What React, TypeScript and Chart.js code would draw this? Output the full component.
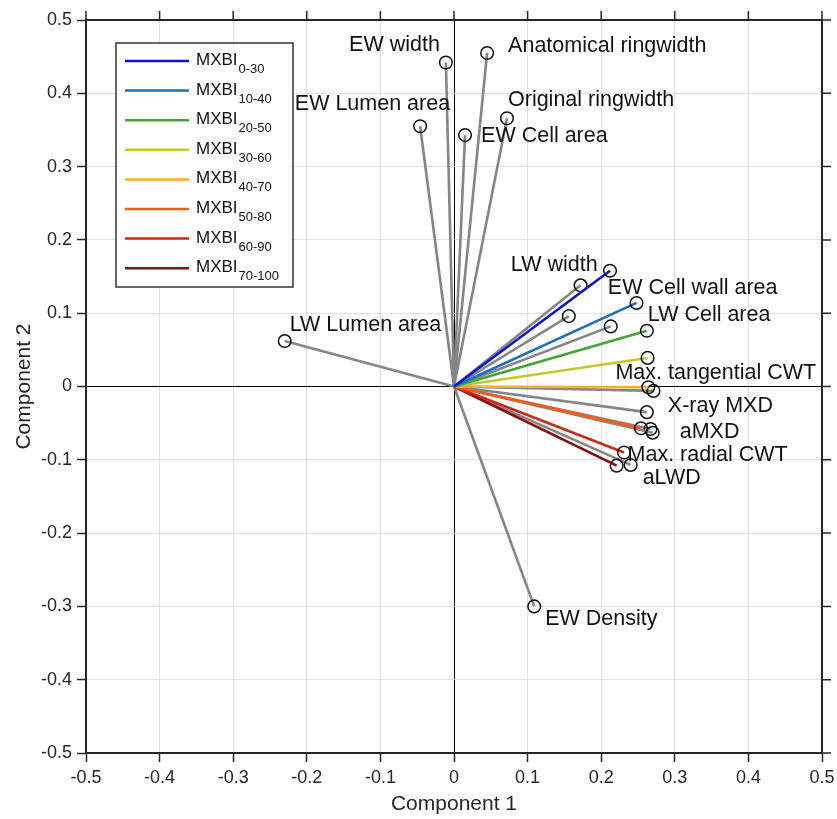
import React, { useEffect, useRef } from "react";
import { Chart, registerables } from "chart.js";

Chart.register(...registerables);

// ---- data ----
const variableNames = [
  "EW width",
  "Anatomical ringwidth",
  "Original ringwidth",
  "EW Lumen area",
  "EW Cell area",
  "LW Lumen area",
  "EW Density",
  "LW width",
  "EW Cell wall area",
  "LW Cell area",
  "Max. tangential CWT",
  "X-ray MXD",
  "aMXD",
  "Max. radial CWT",
  "aLWD",
];
const variableX = [-0.011, 0.045, 0.072, -0.046, 0.015, -0.23, 0.109, 0.172, 0.156, 0.213, 0.271, 0.262, 0.27, 0.267, 0.24];
const variableY = [0.442, 0.455, 0.366, 0.355, 0.343, 0.062, -0.3, 0.138, 0.096, 0.082, -0.006, -0.035, -0.063, -0.058, -0.107];

const mxbiNames = ["0-30", "10-40", "20-50", "30-60", "40-70", "50-80", "60-90", "70-100"];
const mxbiX = [0.212, 0.248, 0.262, 0.263, 0.264, 0.254, 0.231, 0.221];
const mxbiY = [0.158, 0.114, 0.076, 0.039, -0.001, -0.057, -0.09, -0.108];
const mxbiColors = ["#0a14d0", "#1f6fc5", "#3fa535", "#c2c92b", "#fbae2c", "#ff5a0f", "#cc2a14", "#870f0f"];

// label placement (style): alignment and pixel offset from the marker
const labelAlign = ["right", "left", "left", "right", "left", "left", "left", "right", "left", "left", "left", "left", "left", "left", "left"];
const labelDx = [-6, 21, 1, 30, 16, 5, 11, 17, 39, 37, -38, 21, 27, -23, 12];
const labelDy = [-17, -7, -18, -22, 1, -16, 13, -20, -28, -11, -18, -6, -1, 26, 13];

const FONT = "'Liberation Sans', Arial, Helvetica, sans-serif";
const TEXT = "#262626";

const labelsPlugin = {
  id: "varLabels",
  afterDatasetsDraw(chart: any) {
    const { ctx, scales } = chart;
    ctx.save();
    ctx.font = `21.5px ${FONT}`;
    ctx.fillStyle = "#111";
    ctx.textBaseline = "middle";
    variableNames.forEach((name, i) => {
      const px = scales.x.getPixelForValue(variableX[i]);
      const py = scales.y.getPixelForValue(variableY[i]);
      ctx.textAlign = labelAlign[i];
      ctx.fillText(name, px + labelDx[i], py + labelDy[i]);
    });
    ctx.restore();
  },
};

const framePlugin = {
  id: "frame",
  afterDraw(chart: any) {
    const { ctx, chartArea, scales } = chart;
    const { left, right, top, bottom } = chartArea;
    ctx.save();
    ctx.strokeStyle = TEXT;
    ctx.lineWidth = 2;
    ctx.beginPath();
    ctx.moveTo(left, top);
    ctx.lineTo(right, top);
    ctx.lineTo(right, bottom);
    ctx.stroke();
    ctx.lineWidth = 1.5;
    ctx.beginPath();
    scales.x.ticks.forEach((t: any) => {
      const x = scales.x.getPixelForValue(t.value);
      ctx.moveTo(x, top);
      ctx.lineTo(x, top - 9);
    });
    scales.y.ticks.forEach((t: any) => {
      const y = scales.y.getPixelForValue(t.value);
      ctx.moveTo(right, y);
      ctx.lineTo(right + 9, y);
    });
    ctx.stroke();

    // axis titles
    ctx.fillStyle = TEXT;
    ctx.font = `21px ${FONT}`;
    ctx.textAlign = "center";
    ctx.textBaseline = "middle";
    ctx.fillText("Component 1", (left + right) / 2, 804);
    ctx.save();
    ctx.translate(24, (top + bottom) / 2);
    ctx.rotate(-Math.PI / 2);
    ctx.fillText("Component 2", 0, 0);
    ctx.restore();

    // legend
    const bx = left + 30;
    const by = top + 23;
    const bw = 177;
    const bh = 244;
    ctx.fillStyle = "#ffffff";
    ctx.fillRect(bx, by, bw, bh);
    ctx.strokeStyle = "#333";
    ctx.lineWidth = 1.5;
    ctx.strokeRect(bx, by, bw, bh);
    mxbiNames.forEach((n, i) => {
      const ly = by + 18 + i * 29.6;
      ctx.strokeStyle = mxbiColors[i];
      ctx.lineWidth = 2.5;
      ctx.beginPath();
      ctx.moveTo(bx + 9, ly);
      ctx.lineTo(bx + 73, ly);
      ctx.stroke();
      ctx.fillStyle = "#111";
      ctx.textAlign = "left";
      ctx.textBaseline = "alphabetic";
      ctx.font = `17px ${FONT}`;
      const tx = bx + 80;
      ctx.fillText("MXBI", tx, ly + 4);
      const w = ctx.measureText("MXBI").width;
      ctx.font = `13px ${FONT}`;
      ctx.fillText(n, tx + w + 1, ly + 12);
    });
    ctx.restore();
  },
};

export default function App() {
  const ref = useRef<HTMLCanvasElement>(null);
  useEffect(() => {
    document.body.style.margin = "0";
    if (!ref.current) return;
    const datasets: any[] = [];
    mxbiNames.forEach((n, i) => {
      datasets.push({
        label: "MXBI " + n,
        data: [
          { x: 0, y: 0 },
          { x: mxbiX[i], y: mxbiY[i] },
        ],
        showLine: true,
        borderColor: mxbiColors[i],
        borderWidth: 2.6,
        pointRadius: [0, 6.3],
        pointBorderColor: "#111",
        pointBackgroundColor: "rgba(0,0,0,0)",
        pointBorderWidth: 1.5,
      });
    });
    variableNames.forEach((n, i) => {
      datasets.push({
        label: n,
        data: [
          { x: 0, y: 0 },
          { x: variableX[i], y: variableY[i] },
        ],
        showLine: true,
        borderColor: "#858585",
        borderWidth: 2.6,
        pointRadius: [0, 6.3],
        pointBorderColor: "#111",
        pointBackgroundColor: "rgba(0,0,0,0)",
        pointBorderWidth: 1.5,
      });
    });

    const gridColor = (c: any) => (Math.abs(c.tick.value) < 1e-9 ? "#000000" : "#e2e2e2");
    const chart = new Chart(ref.current, {
      type: "scatter",
      data: { datasets },
      plugins: [labelsPlugin, framePlugin],
      options: {
        animation: false,
        responsive: false,
        layout: { padding: { top: 20, right: 15, left: 0, bottom: 0 } },
        plugins: { legend: { display: false }, tooltip: { enabled: false } },
        scales: {
          x: {
            type: "linear",
            min: -0.5,
            max: 0.5,
            ticks: {
              stepSize: 0.1,
              color: TEXT,
              font: { size: 18, family: FONT },
              padding: 5,
              maxRotation: 0,
            },
            grid: { color: gridColor, lineWidth: 1, tickLength: 9, tickColor: TEXT, tickWidth: 1.5 },
            border: { color: TEXT, width: 2 },
            afterFit: (s: any) => {
              s.height = 66;
              s.paddingLeft = 0;
              s.paddingRight = 0;
            },
          },
          y: {
            type: "linear",
            min: -0.5,
            max: 0.5,
            ticks: {
              stepSize: 0.1,
              color: TEXT,
              font: { size: 18, family: FONT },
              padding: 5,
            },
            grid: { color: gridColor, lineWidth: 1, tickLength: 9, tickColor: TEXT, tickWidth: 1.5 },
            border: { color: TEXT, width: 2 },
            afterFit: (s: any) => {
              s.width = 86;
              s.paddingTop = 0;
              s.paddingBottom = 0;
            },
          },
        },
      } as any,
    });
    return () => chart.destroy();
  }, []);
  return <canvas ref={ref} width={837} height={819} style={{ display: "block", width: 837, height: 819 }} />;
}
